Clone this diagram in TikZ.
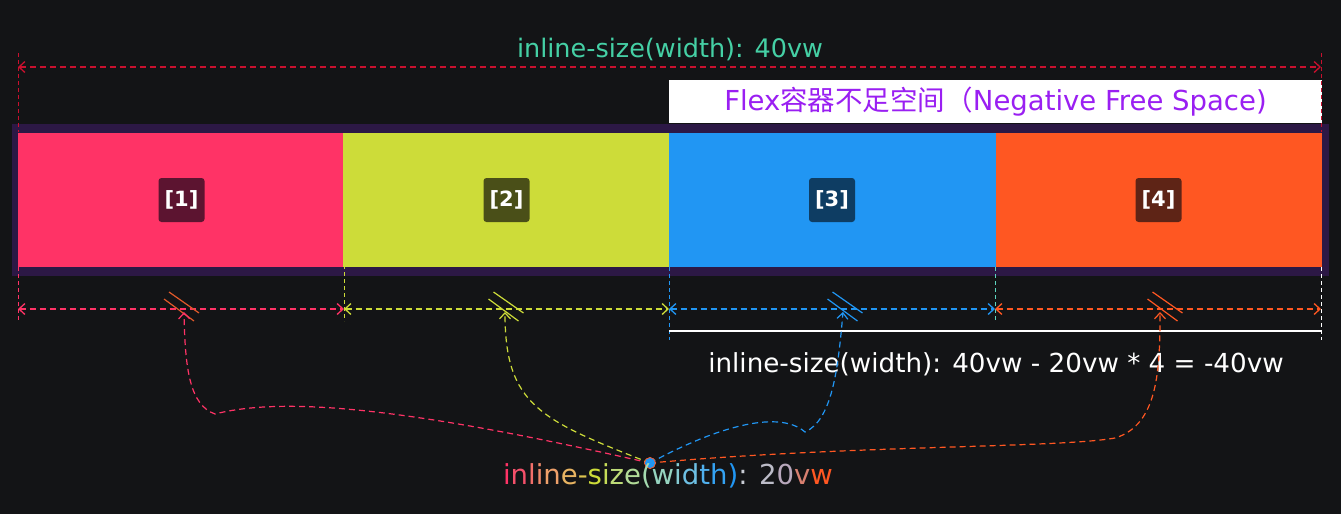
\documentclass[tikz,border=0pt]{standalone}
\usepackage{fontspec}
\setmainfont{DejaVu Sans}
\newfontfamily\cjk{Noto Sans CJK SC}
\usetikzlibrary{arrows.meta,calc}
\definecolor{bgc}{HTML}{131416}
\definecolor{contc}{HTML}{2C1845}
\definecolor{cA}{HTML}{FF3366}
\definecolor{cB}{HTML}{CDDC39}
\definecolor{cC}{HTML}{2196F3}
\definecolor{cD}{HTML}{FF5722}
\definecolor{bA}{HTML}{5C1430}
\definecolor{bB}{HTML}{4A4F18}
\definecolor{bC}{HTML}{0E3D63}
\definecolor{bD}{HTML}{5E2416}
\definecolor{redd}{HTML}{C8102E}
\definecolor{tealc}{HTML}{45D0A5}
\definecolor{purp}{HTML}{9A1FF2}
\definecolor{hashA}{HTML}{E0592A}
\definecolor{tealv}{HTML}{5ED6C0}
\begin{document}
\begin{tikzpicture}[x=1pt,y=-1pt,
  container/.style={rectangle,fill=contc,minimum width=1317pt,minimum height=152pt,inner sep=0pt},
  item/.style={rectangle,minimum width=327pt,minimum height=134pt,inner sep=0pt},
  badge/.style={rectangle,rounded corners=3pt,minimum width=46pt,minimum height=44pt,inner sep=0pt,text=white,font=\bfseries\fontsize{21}{23}\selectfont},
  dimline/.style={dash pattern=on 6pt off 4pt,line width=1.3pt},
  guide/.style={dash pattern=on 4pt off 3pt,line width=1pt},
  tipped/.style={{Straight Barb[length=6pt,width=11pt]}-{Straight Barb[length=6pt,width=11pt]}},
  uptip/.style={-{Straight Barb[length=6pt,width=11pt]}},
  hash/.style={line width=1.2pt},
  curve/.style={dash pattern=on 6pt off 4pt,line width=1.2pt}
]
\fill[bgc] (0,0) rectangle (1341,514);
\useasboundingbox (0,0) rectangle (1341,514);

% container and items
\node[container] (box) at (670.5,200) {};
\node[item,fill=cA] (i1) at (181.5,200) {};
\node[item,fill=cB] (i2) at (506.5,200) {};
\node[item,fill=cC] (i3) at (832,200) {};
\node[item,fill=cD,minimum width=326pt] (i4) at (1158.5,200) {};
\node[badge,fill=bA] (b1) at (i1) {[1]};
\node[badge,fill=bB] (b2) at (i2) {[2]};
\node[badge,fill=bC] (b3) at (i3) {[3]};
\node[badge,fill=bD] (b4) at (i4) {[4]};

% negative free space label
\node[rectangle,fill=white,minimum width=653pt,minimum height=43pt,inner sep=0pt,text=purp,font=\fontsize{27.5}{30}\selectfont] (neg) at (995.5,101.5) {Flex{\cjk 容器不足空间（}Negative Free Space)};

% top dimension
\coordinate (tvl1) at (18,53);
\coordinate (tvl2) at (18,132);
\coordinate (tvr1) at (1321,53);
\coordinate (tvr2) at (1321,132);
\coordinate (tl) at (18,67);
\coordinate (tr) at (1321,67);
\draw[redd,guide] (tvl1) -- (tvl2);
\draw[redd,guide] (tvr1) -- (tvr2);
\draw[redd,dimline,tipped] (tl) -- (tr);
\node[text=tealc,font=\fontsize{25.5}{27}\selectfont] (toplabel) at (670,49) {inline-size(width): 40vw};

% bottom guides
\coordinate (g0a) at (18,267);   \coordinate (g0b) at (18,321);
\coordinate (g1a) at (344,265);  \coordinate (g1b) at (344,321);
\coordinate (g2a) at (669,267);  \coordinate (g2b) at (669,340);
\coordinate (g3a) at (995,267);  \coordinate (g3b) at (995,321);
\coordinate (g4a) at (1321,267); \coordinate (g4b) at (1321,340);
\draw[cA,guide] (g0a) -- (g0b);
\draw[cB,guide] (g1a) -- (g1b);
\draw[cC,guide] (g2a) -- (g2b);
\draw[tealv,guide] (g3a) -- (g3b);
\draw[white,guide] (g4a) -- (g4b);

% bottom dimensions
\coordinate (d0) at (18,309);
\coordinate (d1) at (344,309);
\coordinate (d2) at (669,309);
\coordinate (d3) at (995,309);
\coordinate (d4) at (1321,309);
\draw[cA,dimline,tipped] (d0) -- (d1);
\draw[cB,dimline,tipped] (d1) -- (d2);
\draw[cC,dimline,tipped] (d2) -- (d3);
\draw[cD,dimline,tipped] (d3) -- (d4);

% hash marks
\coordinate (h1) at (181.5,306);
\coordinate (h2) at (506,306);
\coordinate (h3) at (845,306);
\coordinate (h4) at (1165,306);
\foreach \h/\c in {h1/hashA,h2/cB,h3/cC,h4/cD}{
  \draw[\c,hash] ($(\h)+(-12.5,-14)$) -- ($(\h)+(17.5,7)$);
  \draw[\c,hash] ($(\h)+(-17.5,-7)$) -- ($(\h)+(12.5,15)$);
}

% result line
\coordinate (wl) at (669,331);
\coordinate (wr) at (1321,331);
\draw[white,line width=1.5pt] (wl) -- (wr);
\node[text=white,font=\fontsize{26.2}{28}\selectfont] (formula) at (996,364) {inline-size(width): 40vw - 20vw * 4 = -40vw};

% curves
\coordinate (e1) at (184,312);
\coordinate (e2) at (505,312);
\coordinate (e3) at (843,312);
\coordinate (e4) at (1160,312);
\node[circle,fill=cC,draw=cD,line width=0.6pt,minimum size=11pt,inner sep=0pt] (dot) at (650,463) {};
\draw[cA,curve,uptip] (dot.center) .. controls (460,420) and (300,392) .. (215,414) .. controls (190,405) and (185,370) .. (e1);
\draw[cB,curve,uptip] (dot.center) .. controls (540,420) and (505,405) .. (e2);
\draw[cC,curve,uptip] (dot.center) .. controls (720,425) and (780,410) .. (805,432) .. controls (832,420) and (838,370) .. (e3);
\draw[cD,curve,uptip] (dot.center) .. controls (850,445) and (1060,448) .. (1115,438) .. controls (1158,425) and (1160,370) .. (e4);
\node[circle,fill=cC,draw=cD,line width=0.6pt,minimum size=11pt,inner sep=0pt] at (dot) {};

% bottom label
\node[font=\fontsize{27.5}{29}\selectfont] (botlabel) at (668,476) {%
\textcolor[HTML]{FF3366}{i}\textcolor[HTML]{F5506A}{n}\textcolor[HTML]{F26F6A}{l}\textcolor[HTML]{F08A6A}{i}\textcolor[HTML]{EEA06A}{n}\textcolor[HTML]{E8B462}{e}\textcolor[HTML]{DCC450}{-}\textcolor[HTML]{CDDC39}{s}\textcolor[HTML]{C6DC58}{i}\textcolor[HTML]{BEDC78}{z}\textcolor[HTML]{B2DC98}{e}\textcolor[HTML]{A4DAB0}{(}\textcolor[HTML]{96D4C0}{w}\textcolor[HTML]{86CCD4}{i}\textcolor[HTML]{6EC0E4}{d}\textcolor[HTML]{50B0EE}{t}\textcolor[HTML]{34A2F2}{h}\textcolor[HTML]{2196F3}{)}\textcolor[HTML]{C8CCD4}{:} \textcolor[HTML]{BCBCC8}{2}\textcolor[HTML]{B8A8BC}{0}\textcolor[HTML]{D88070}{v}\textcolor[HTML]{FF5722}{w}};
\end{tikzpicture}
\end{document}
